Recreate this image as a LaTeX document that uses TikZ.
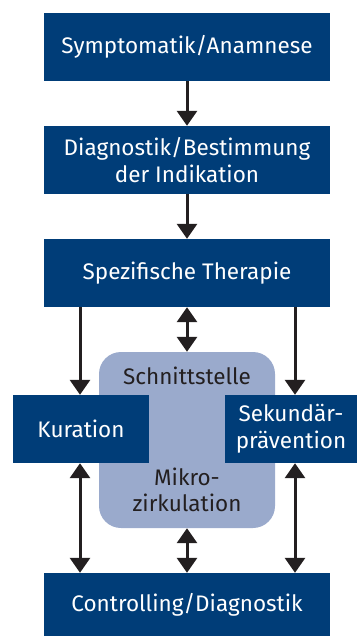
\documentclass[tikz,border=0pt]{standalone}
\usepackage{fontspec}
\setmainfont{Fira Sans}
\usetikzlibrary{arrows.meta}
\definecolor{dblue}{HTML}{003D78}
\definecolor{lblue}{HTML}{9AAACC}
\definecolor{dtext}{HTML}{231F20}
\begin{document}
\begin{tikzpicture}[x=1pt,y=-1pt,
  txt/.style={font=\fontsize{22.5}{26.5}\selectfont},
  box/.style={txt,fill=dblue,text=white,inner sep=0pt,align=center},
  arr/.style={draw=dtext,line width=3pt,-{Triangle[length=15pt,width=20pt]}},
  darr/.style={draw=dtext,line width=3pt,{Triangle[length=15pt,width=20pt]}-{Triangle[length=15pt,width=20pt]}}]
\useasboundingbox (0,0) rectangle (357,637);
\node[fill=lblue,rounded corners=22pt,minimum width=176pt,minimum height=176pt,inner sep=0pt] (mz) at (187,440) {};
\node[txt,text=dtext] (sn) at (187,376) {Schnittstelle};
\node[txt,text=dtext,align=center] (mk) at (187,490) {Mikro-\\zirkulation};
\node[box,minimum width=286pt,minimum height=68pt] (sa) at (187,47) {Symptomatik/Anamnese};
\node[box,minimum width=286pt,minimum height=68pt] (di) at (187,160) {Diagnostik/Bestimmung\\der Indikation};
\node[box,minimum width=286pt,minimum height=68pt] (st) at (187,273) {Spezifische Therapie};
\node[box,minimum width=136pt,minimum height=68pt] (ku) at (81,429) {Kuration};
\node[box,minimum width=132pt,minimum height=68pt] (sp) at (291,429) {Sekundär-\\prävention};
\node[box,minimum width=286pt,minimum height=63pt] (cd) at (187,604.5) {Controlling/Diagnostik};
\draw[arr] (sa.south) -- (di.north);
\draw[arr] (di.south) -- (st.north);
\draw[arr] (st.south -| 80,0) -- (ku.north -| 80,0);
\draw[arr] (st.south -| 295,0) -- (sp.north -| 295,0);
\draw[darr] (st.south) -- (mz.north);
\draw[darr] (mz.south) -- (cd.north);
\draw[darr] (ku.south -| 80,0) -- (cd.north -| 80,0);
\draw[darr] (sp.south -| 295,0) -- (cd.north -| 295,0);
\end{tikzpicture}
\end{document}
